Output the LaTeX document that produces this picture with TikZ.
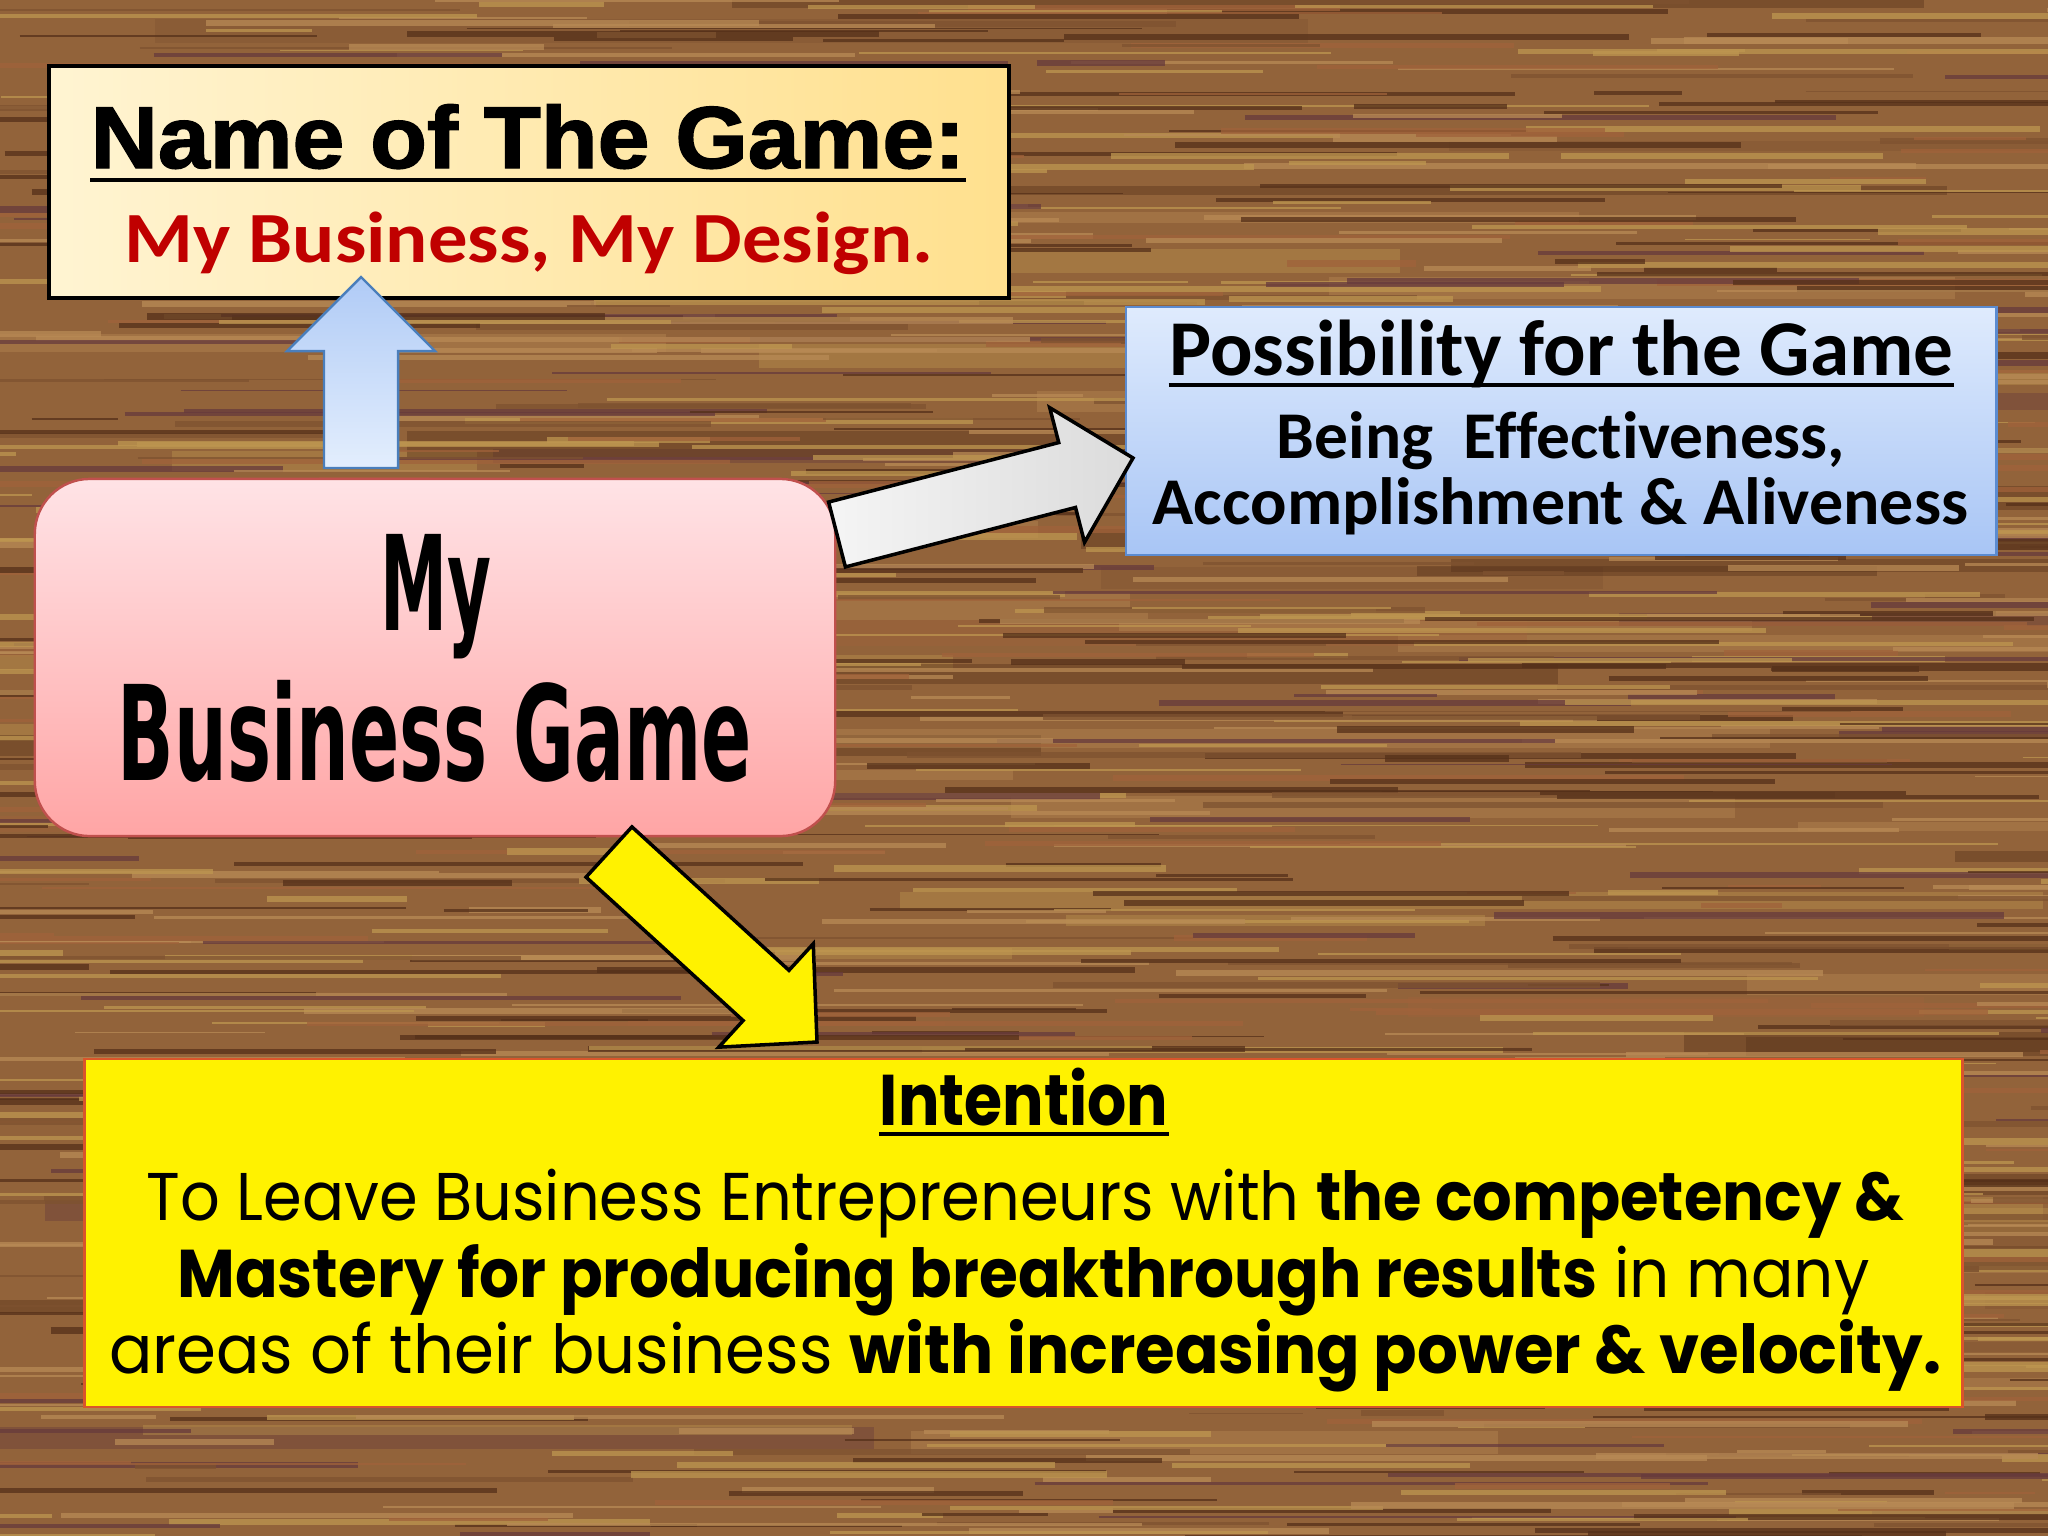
\documentclass[tikz,border=0pt]{standalone}
\usepackage{fontspec}
\usepackage{graphicx}
\usetikzlibrary{calc}
\setmainfont{Carlito}[Ligatures=NoCommon]
\newfontfamily\arialf{Liberation Sans}[BoldFeatures={FakeBold=1.6}]
\newfontfamily\agencyf{DejaVu Sans}
\newfontfamily\twcenf{Poppins}
\definecolor{woodbase}{HTML}{92633A}
\definecolor{wdark}{HTML}{553019}
\definecolor{wlight}{HTML}{B88A55}
\definecolor{wgold}{HTML}{BE9650}
\definecolor{wpurple}{HTML}{673A3C}
\definecolor{wred}{HTML}{A0623A}
\definecolor{wmid}{HTML}{7E5230}
\definecolor{redtxt}{HTML}{C00000}
\definecolor{nameL}{HTML}{FFF4D2}
\definecolor{nameR}{HTML}{FFE08E}
\definecolor{mbgT}{HTML}{FFE3E6}
\definecolor{mbgB}{HTML}{FFA5A5}
\definecolor{mbgD}{HTML}{C0504D}
\definecolor{possT}{HTML}{DFEBFD}
\definecolor{possB}{HTML}{A8C5F5}
\definecolor{possD}{HTML}{5B8BD0}
\definecolor{intD}{HTML}{D9552B}
\definecolor{blueT}{HTML}{B0CBF6}
\definecolor{blueB}{HTML}{E3EEFD}
\definecolor{blueD}{HTML}{4A7EBB}
\pgfmathdeclarerandomlist{woodcols}{{wdark}{wlight}{wgold}{wpurple}{wred}{wmid}{wlight}{wgold}{wdark}}
% block arrow: #1 start, #2 end, #3 half shaft width, #4 half head width, #5 head length, #6 style
\newcommand\blockarrow[6]{%
  \coordinate (#1-hb) at ($(#2)!#5!(#1)$);
  \draw[#6] ($(#1)!#3!90:(#2)$) -- ($(#1-hb)!#3!90:(#2)$) -- ($(#1-hb)!#4!90:(#2)$)
    -- (#2) -- ($(#1-hb)!#4!-90:(#2)$) -- ($(#1-hb)!#3!-90:(#2)$) -- ($(#1)!#3!-90:(#2)$) -- cycle;
}
\begin{document}
\begin{tikzpicture}[x=0.01cm,y=-0.01cm,
  txt/.style={inner sep=0pt, anchor=base},
  uline/.style={line width=1.1pt},
  namebox/.style={draw=black, line width=1.2pt, left color=nameL, right color=nameR, inner sep=0pt},
  mbgbox/.style={draw=mbgD, line width=0.7pt, top color=mbgT, bottom color=mbgB, rounded corners=0.55cm, inner sep=0pt},
  possbox/.style={draw=possD, line width=0.7pt, top color=possT, bottom color=possB, inner sep=0pt},
  intbox/.style={draw=intD, line width=0.7pt, fill=yellow, inner sep=0pt},
  bluearrow/.style={draw=blueD, line width=0.7pt, top color=blueT, bottom color=blueB, line join=miter},
  grayarrow/.style={draw=black, line width=1pt, left color=gray!8, right color=gray!28, line join=miter},
  yellowarrow/.style={draw=black, line width=1pt, fill=yellow, line join=miter}
]
\useasboundingbox (0,0) rectangle (2048,1536);
% wood background
\begin{scope}
  \clip (0,0) rectangle (2048,1536);
  \fill[woodbase] (0,0) rectangle (2048,1536);
  \pgfmathsetseed{4}
  \foreach \i in {1,...,70}{
    \pgfmathsetmacro\yy{rnd*1540}
    \pgfmathsetmacro\xx{rnd*2300-300}
    \pgfmathsetmacro\ll{300+rnd*900}
    \pgfmathsetmacro\ww{(8+rnd*18)*0.2845}
    \pgfmathrandomitem{\cc}{woodcols}
    \draw[color=\cc, line width=\ww pt, opacity=0.4] (\xx,\yy) -- ++(\ll,0);
  }
  \foreach \i in {1,...,1100}{
    \pgfmathsetmacro\yy{rnd*1540}
    \pgfmathsetmacro\xx{rnd*2300-250}
    \pgfmathsetmacro\ll{80+rnd*600}
    \pgfmathsetmacro\ww{(1.5+rnd*5)*0.2845}
    \pgfmathrandomitem{\cc}{woodcols}
    \draw[color=\cc, line width=\ww pt, opacity=0.75] (\xx,\yy) -- ++(\ll,0);
  }
\end{scope}
% boxes
\node[namebox, minimum width=9.6cm, minimum height=2.32cm] (name) at (529,182) {};
\node[possbox, minimum width=8.7cm, minimum height=2.48cm] (poss) at (1561,431) {};
\node[mbgbox, minimum width=8.0cm, minimum height=3.57cm] (mbg) at (435,657.5) {};
\node[intbox, minimum width=18.77cm, minimum height=3.48cm] (int) at (1023.5,1233) {};
% name box texts
\node[txt] (nameT) at (528,168) {\resizebox{8.74cm}{\height}{\arialf\bfseries\fontsize{25pt}{30pt}\selectfont Name of The Game:}};
\draw[uline] ($(nameT.base west)+(0,12)$) -- ($(nameT.base east)+(0,12)$);
\node[txt, text=redtxt] (nameS) at (529,262) {\resizebox{8.08cm}{\height}{\bfseries\fontsize{20.5pt}{24pt}\selectfont My Business, My Design.}};
% possibility texts
\node[txt] (possH) at (1561.5,375) {\resizebox{7.84cm}{\height}{\bfseries\fontsize{22.5pt}{27pt}\selectfont Possibility for the Game}};
\draw[uline] ($(possH.base west)+(0,10)$) -- ($(possH.base east)+(0,10)$);
\node[txt] (poss1) at (1561,458) {\resizebox{5.68cm}{\height}{\bfseries\fontsize{19pt}{23pt}\selectfont Being\ \ Effectiveness,}};
\node[txt] (poss2) at (1560.5,524) {\resizebox{8.15cm}{\height}{\bfseries\fontsize{19pt}{23pt}\selectfont Accomplishment \& Aliveness}};
% my business game texts
\node[txt] (mbgA) at (436,630) {\resizebox{1.11cm}{\height}{\agencyf\bfseries\fontsize{37.5pt}{40pt}\selectfont My}};
\node[txt] (mbgB) at (435,780) {\resizebox{6.34cm}{\height}{\agencyf\bfseries\fontsize{37.5pt}{40pt}\selectfont Business Game}};
% intention texts
\node[txt] (intH) at (1024,1125) {\resizebox{2.88cm}{\height}{\twcenf\bfseries\fontsize{20.4pt}{24pt}\selectfont Intention}};
\draw[line width=1pt] ($(intH.base west)+(0,9)$) -- ($(intH.base east)+(0,9)$);
\node[txt] (int1) at (1025.5,1220) {\resizebox{17.57cm}{\height}{\twcenf\fontsize{19.2pt}{23pt}\selectfont To Leave Business Entrepreneurs with \textbf{the competency \&}}};
\node[txt] (int2) at (1023.5,1297) {\resizebox{16.91cm}{\height}{\twcenf\fontsize{19.2pt}{23pt}\selectfont \textbf{Mastery for producing breakthrough results} in many}};
\node[txt] (int3) at (1025.5,1373) {\resizebox{18.31cm}{\height}{\twcenf\fontsize{19.2pt}{23pt}\selectfont areas of their business \textbf{with increasing power \& velocity.}}};
% arrows
\coordinate (upS) at (361,468);
\coordinate (upE) at (361,277);
\blockarrow{upS}{upE}{0.37cm}{0.74cm}{0.74cm}{bluearrow}
\coordinate (grS) at (837,534.5);
\coordinate (grE) at (1133,458);
\blockarrow{grS}{grE}{0.335cm}{0.695cm}{0.68cm}{grayarrow}
\coordinate (yeS) at (609,852);
\coordinate (yeE) at (817,1042);
\blockarrow{yeS}{yeE}{0.34cm}{0.70cm}{0.69cm}{yellowarrow}
\end{tikzpicture}
\end{document}
